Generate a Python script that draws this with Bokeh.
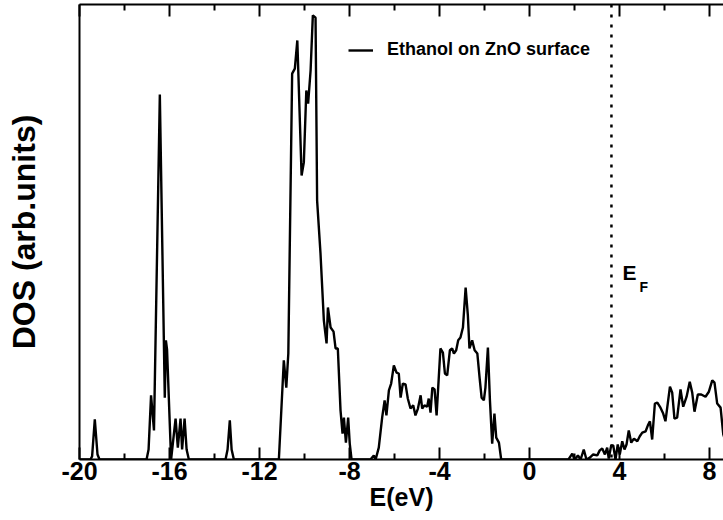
from bokeh.plotting import figure
from bokeh.models import (Range1d, LinearAxis, FixedTicker, Span, Label,
                          Legend, LegendItem)
from bokeh.embed import file_html
from bokeh.resources import INLINE

# Total density of states of ethanol adsorbed on a ZnO surface
energy_ev = [
    -20.00, -19.51, -19.44, -19.32, -19.20, -19.11, -17.02, -16.93, -16.82, -16.69,
    -16.43, -16.21, -16.16, -16.11, -15.93, -15.73, -15.63, -15.51, -15.44, -15.33,
    -15.24, -15.14, -13.51, -13.42, -13.32, -13.24, -13.14, -11.14, -10.92, -10.81,
    -10.72, -10.55, -10.43, -10.32, -10.13, -10.03, -9.92, -9.84, -9.73, -9.63,
    -9.51, -9.44, -9.29, -9.14, -9.09, -9.02, -8.96, -8.84, -8.71, -8.62,
    -8.52, -8.40, -8.31, -8.25, -8.16, -8.06, -7.99, -7.91, -7.07, -6.92,
    -6.84, -6.70, -6.55, -6.44, -6.36, -6.25, -6.15, -6.03, -5.91, -5.81,
    -5.73, -5.63, -5.51, -5.41, -5.29, -5.17, -5.07, -4.96, -4.84, -4.77,
    -4.67, -4.55, -4.48, -4.40, -4.32, -4.22, -4.13, -3.96, -3.85, -3.76,
    -3.66, -3.54, -3.44, -3.36, -3.26, -3.17, -3.07, -2.96, -2.84, -2.74,
    -2.67, -2.55, -2.44, -2.32, -2.22, -2.13, -2.03, -1.96, -1.85, -1.76,
    -1.66, -1.56, -1.48, -1.36, -1.26, 1.73, 1.90, 2.00, 2.15, 2.27,
    2.41, 2.53, 2.68, 2.83, 3.01, 3.12, 3.23, 3.35, 3.45, 3.52,
    3.63, 3.72, 3.82, 3.92, 4.01, 4.12, 4.22, 4.31, 4.41, 4.52,
    4.64, 4.79, 4.90, 5.01, 5.16, 5.26, 5.35, 5.45, 5.57, 5.68,
    5.82, 5.94, 6.04, 6.24, 6.34, 6.44, 6.56, 6.71, 6.83, 6.98,
    7.12, 7.23, 7.33, 7.48, 7.63, 7.82, 7.97, 8.12, 8.22, 8.34,
    8.49, 8.61, 8.76,
]
dos = [
    0.00, 0.00, 0.07, 0.88, 0.11, 0.00, 0.00, 0.22, 1.41, 0.64,
    8.02, 1.36, 2.62, 2.42, 0.00, 0.90, 0.26, 0.90, 0.22, 0.90,
    0.22, 0.00, 0.00, 0.22, 0.86, 0.22, 0.00, 0.00, 2.18, 1.58,
    2.33, 8.48, 8.59, 9.21, 6.24, 6.53, 8.11, 7.82, 8.55, 9.76,
    9.71, 5.69, 4.53, 3.05, 2.84, 2.55, 3.34, 2.90, 2.81, 2.44,
    2.44, 1.08, 0.57, 0.92, 0.37, 0.92, 0.35, 0.00, 0.00, 0.09,
    0.00, 0.26, 0.92, 1.30, 0.97, 1.52, 1.67, 2.07, 1.91, 1.89,
    1.36, 1.67, 1.65, 1.34, 1.12, 1.19, 0.97, 1.12, 1.41, 1.12,
    1.19, 1.16, 1.34, 1.03, 1.58, 1.54, 0.97, 2.44, 2.35, 1.89,
    1.85, 2.40, 2.44, 2.33, 2.40, 2.62, 2.68, 2.90, 3.78, 3.16,
    2.44, 2.62, 2.40, 2.33, 1.80, 1.36, 1.30, 1.58, 2.46, 1.30,
    0.35, 1.01, 0.48, 0.37, 0.00, 0.00, 0.13, 0.00, 0.09, 0.00,
    0.22, 0.00, 0.04, 0.11, 0.09, 0.20, 0.24, 0.11, 0.26, 0.02,
    0.31, 0.31, 0.00, 0.33, 0.11, 0.40, 0.22, 0.33, 0.64, 0.37,
    0.46, 0.40, 0.51, 0.59, 0.62, 0.75, 0.84, 0.44, 1.23, 1.25,
    1.14, 1.01, 0.84, 1.60, 1.47, 0.90, 0.92, 1.54, 1.16, 1.38,
    1.71, 1.47, 1.05, 1.43, 1.43, 1.38, 1.49, 1.74, 1.69, 1.23,
    1.14, 0.55, 0.33,
]

fermi_level = 3.64
major_ticks = [-20, -16, -12, -8, -4, 0, 4, 8]
major_tick_labels = ["-20", "-16", "-12", "-8", "-4", "0", "4", "8"]
minor_ticks = [-18, -14, -10, -6, -2, 2, 6]
series_label = "Ethanol on ZnO surface"

FONT = "Liberation Sans"

p = figure(width=723, height=520, output_backend="svg", toolbar_location=None,
           x_range=Range1d(-20, 8.62), y_range=Range1d(0, 10),
           x_axis_location=None, y_axis_location=None,
           min_border_left=79, min_border_right=0, min_border_top=4,
           min_border_bottom=61)
p.outline_line_color = None
p.grid.visible = False
p.background_fill_color = "white"
p.border_fill_color = "white"

ticker = FixedTicker(ticks=major_ticks, minor_ticks=minor_ticks)


def style_x_axis(ax):
    ax.axis_line_width = 2
    ax.axis_line_color = "black"
    ax.major_tick_in = 12
    ax.major_tick_out = 0
    ax.minor_tick_in = 6
    ax.minor_tick_out = 0
    ax.major_tick_line_width = 2
    ax.minor_tick_line_width = 2


bottom = LinearAxis(ticker=ticker, axis_label="E(eV)")
style_x_axis(bottom)
bottom.major_label_overrides = dict(zip(major_ticks, major_tick_labels))
bottom.major_label_text_font = FONT
bottom.major_label_text_font_style = "bold"
bottom.major_label_text_font_size = "25px"
bottom.major_label_text_color = "black"
bottom.major_label_standoff = 2
bottom.axis_label_text_font = FONT
bottom.axis_label_text_font_style = "bold"
bottom.axis_label_text_font_size = "25px"
bottom.axis_label_text_color = "black"
bottom.axis_label_standoff = 0
p.add_layout(bottom, "below")

# mirror ticks along the top edge, without labels
top = LinearAxis(ticker=ticker)
style_x_axis(top)
top.major_label_overrides = {t: "" for t in major_ticks}
top.major_label_standoff = 0
p.add_layout(top, "above")

left = LinearAxis(ticker=FixedTicker(ticks=[]), axis_label="DOS (arb.units)")
left.axis_line_width = 2
left.axis_line_color = "black"
left.major_label_standoff = 0
left.axis_label_text_font = FONT
left.axis_label_text_font_style = "bold"
left.axis_label_text_font_size = "32px"
left.axis_label_text_color = "black"
left.axis_label_standoff = 38
p.add_layout(left, "left")

line = p.line(energy_ev, dos, line_color="black", line_width=2.4)

p.add_layout(Span(location=fermi_level, dimension="height", line_color="black",
                  line_width=2.5, line_dash="3 7"))

p.add_layout(Label(x=fermi_level, y=0, x_units="data", y_units="data",
                   x_offset=11, y_offset=176, text="E", text_font=FONT,
                   text_font_style="bold", text_font_size="21px",
                   text_color="black"))
p.add_layout(Label(x=fermi_level, y=0, x_units="data", y_units="data",
                   x_offset=28, y_offset=165, text="F", text_font=FONT,
                   text_font_style="bold", text_font_size="14px",
                   text_color="black"))

legend = Legend(items=[LegendItem(label=series_label, renderers=[line])],
                location=(269, 399), padding=0, margin=0, glyph_width=25,
                glyph_height=20, label_height=20, label_standoff=14,
                border_line_color=None, background_fill_alpha=0,
                label_text_font=FONT, label_text_font_style="bold",
                label_text_font_size="18px", label_text_color="black")
p.add_layout(legend)

open("out.html", "w").write(file_html(p, INLINE))
